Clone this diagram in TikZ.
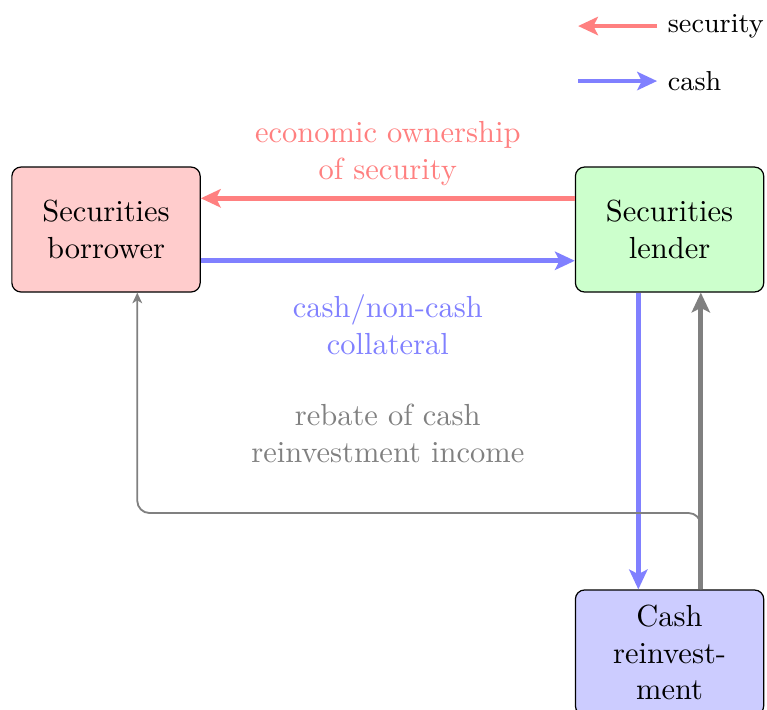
\documentclass[tikz,border=0pt]{standalone}
\usepackage{xcolor}
\usepackage{tikz}
\usetikzlibrary{positioning,arrows.meta}

\begin{document}
\begin{tikzpicture}[node distance=1.5cm,
  party/.style={rectangle, draw, rounded corners=3pt, align=center, minimum width=2.17cm, minimum height=1.44cm},
  secarrow/.style={draw=red!50, line width=1.6pt, -{Stealth[length=6.5pt,width=6pt,inset=1.5pt]}},
  casharrow/.style={draw=blue!50, line width=1.6pt, -{Stealth[length=6.5pt,width=6pt,inset=1.5pt]}},
  incomearrow/.style={draw=gray, line width=1.6pt, -{Stealth[length=6.5pt,width=6pt,inset=1.5pt]}},
  rebatearrow/.style={draw=gray, semithick, rounded corners, -{Stealth[length=3.5pt,width=3.2pt,inset=1pt]}},
  seclabel/.style={text=red!50, align=center},
  cashlabel/.style={text=blue!50, align=center},
  rebatelabel/.style={text=gray, align=center},
  legendtext/.style={anchor=west, font=\small}]
\useasboundingbox (-1.222,2.645) rectangle (7.617,-5.526);

\node[party, fill=red!20] (borrower) {Securities\\borrower};
\node[party, fill=green!20, right=4.31cm of borrower] (lender) {Securities\\lender};
\node[party, fill=blue!20, below=3.42cm of lender] (cash) {Cash\\reinvest-\\ment};

% legend
\coordinate (secend) at (5.44,2.345);
\coordinate (cashstart) at (5.44,1.711);
\node[legendtext] (seclegend) at (6.35,2.345) {security};
\node[legendtext] (cashlegend) at (6.35,1.711) {cash};
\draw[secarrow] (seclegend.west) -- (secend);
\draw[casharrow] (cashstart) -- (cashlegend.west);

% flows between the parties
\draw[secarrow] ([yshift=0.36cm]lender.west) -- node[seclabel, above] (ownership) {economic ownership\\of security} ([yshift=0.36cm]borrower.east);
\draw[casharrow] ([yshift=-0.36cm]borrower.east) -- node[cashlabel, below=7pt] (collateral) {cash/non-cash\\collateral} ([yshift=-0.36cm]lender.west);
\node[rebatelabel, below=0.3cm of collateral] (rebate) {rebate of cash\\reinvestment income};

\draw[casharrow] ([xshift=-0.36cm]lender.south) -- ([xshift=-0.36cm]cash.north);
\draw[rebatearrow] ([xshift=0.36cm]cash.north) -- ++(0,0.88) -| ([xshift=0.36cm]borrower.south);
\draw[incomearrow] ([xshift=0.36cm]cash.north) -- ([xshift=0.36cm]lender.south);
\end{tikzpicture}
\end{document}
